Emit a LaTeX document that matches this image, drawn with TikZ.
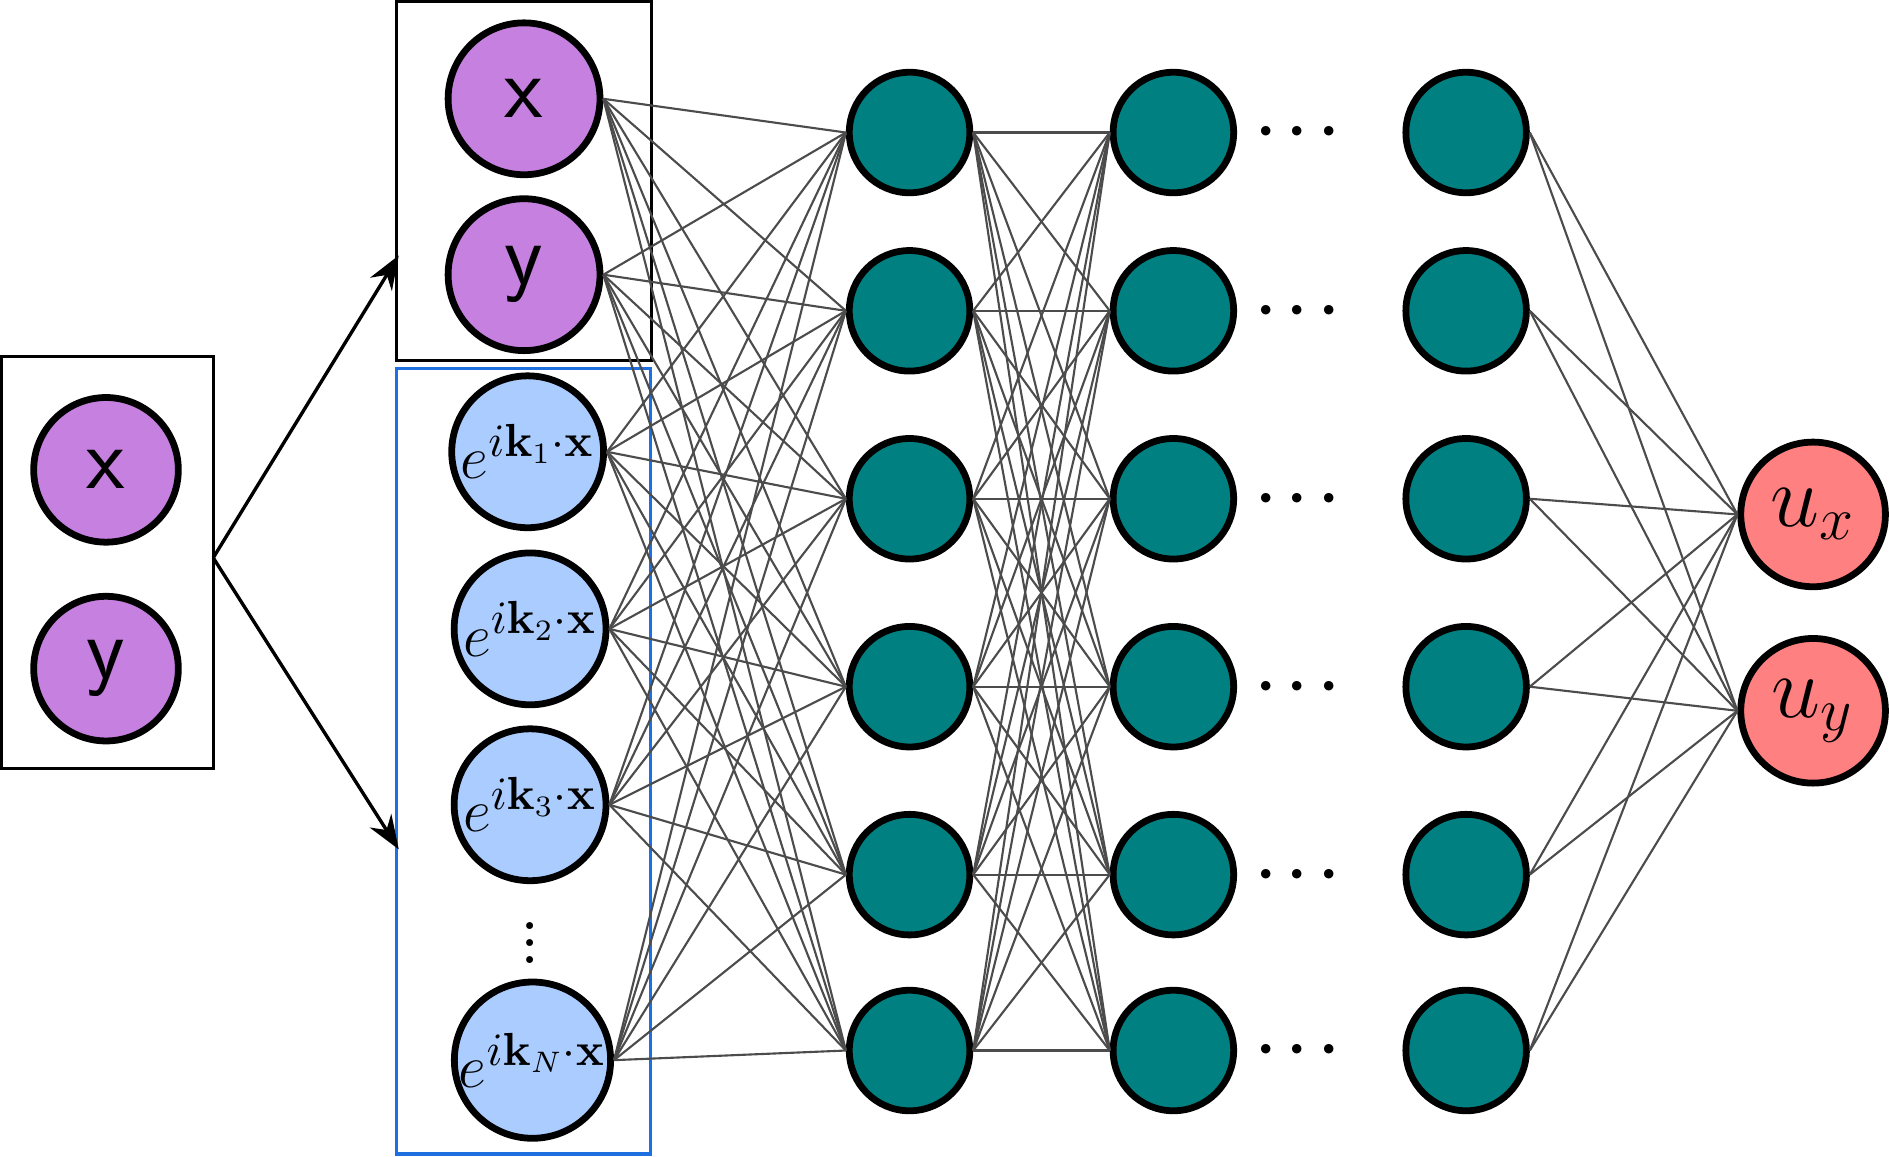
\documentclass[tikz,border=0pt]{standalone}
\usepackage{amsmath}
\usetikzlibrary{arrows.meta}
\definecolor{inpurple}{HTML}{C680E0}
\definecolor{fourblue}{HTML}{AACCFF}
\definecolor{hidteal}{HTML}{008080}
\definecolor{outred}{HTML}{FF8080}
\definecolor{boxblue}{HTML}{1E6FE0}
\tikzset{
  neuron/.style={circle,draw=black,line width=1.6pt,inner sep=0pt},
  inneuron/.style={neuron,fill=inpurple,minimum size=1.2cm,font=\sffamily\fontsize{21}{23}\selectfont},
  bigin/.style={neuron,fill=inpurple,minimum size=1.26cm,font=\sffamily\fontsize{21}{23}\selectfont},
  fourier/.style={neuron,fill=fourblue,minimum size=1.26cm,font=\fontsize{15}{17}\selectfont},
  hidden/.style={neuron,fill=hidteal,minimum size=1.0cm},
  outneuron/.style={neuron,fill=outred,minimum size=1.2cm,font=\fontsize{21}{23}\selectfont},
  weight/.style={draw=black!70,line width=0.5pt},
  dotlabel/.style={inner sep=0pt,font=\fontsize{14}{16}\selectfont},
}
\begin{document}
\begin{tikzpicture}[x=0.01cm,y=-0.01cm]
  \useasboundingbox (0,0) rectangle (1568,960);
  % input boxes
  \draw[line width=0.8pt] (1,296) rectangle (177,638);
  \draw[line width=0.8pt] (329,1) rectangle (541,299);
  \draw[boxblue,line width=0.8pt] (329,306) rectangle (540,958);
  \node[inneuron] (ax) at (88,390) {x};
  \node[inneuron] (ay) at (88,555) {y};
  \node[bigin] (in1) at (435,82) {x};
  \node[bigin] (in2) at (435,228) {y};
  \node[fourier] (in3) at (438,375) {$e^{i\mathbf{k}_1\cdot\mathbf{x}}$};
  \node[fourier] (in4) at (440,522) {$e^{i\mathbf{k}_2\cdot\mathbf{x}}$};
  \node[fourier] (in5) at (440,668) {$e^{i\mathbf{k}_3\cdot\mathbf{x}}$};
  \node[fourier] (in6) at (442,880) {$e^{i\mathbf{k}_N\cdot\mathbf{x}}$};
  \node[dotlabel,font=\fontsize{20}{22}\selectfont] (vdots) at (440,772) {$\vdots$};
  \coordinate (split) at (177,463);
  \draw[-{Stealth[length=8pt]},line width=0.8pt] (split) -- (331,212);
  \draw[-{Stealth[length=8pt]},line width=0.8pt] (split) -- (331,705);
  % hidden layers
  \foreach \y [count=\i] in {110,258,414,570,726,872} {
    \node[hidden] (ha\i) at (755,\y) {};
    \node[hidden] (hb\i) at (974,\y) {};
    \node[hidden] (hc\i) at (1217,\y) {};
    \node[dotlabel] (dt\i) at (1082,\y) {$\boldsymbol{\cdots}$};
  }
  \node[outneuron] (ux) at (1505,427) {$u_x$};
  \node[outneuron] (uy) at (1505,590) {$u_y$};
  % weights
  \foreach \i in {1,...,6} {
    \foreach \j in {1,...,6} {
      \draw[weight] (in\i.east) -- (ha\j.west);
      \draw[weight] (ha\i.east) -- (hb\j.west);
    }
    \draw[weight] (hc\i.east) -- (ux.west);
    \draw[weight] (hc\i.east) -- (uy.west);
  }
\end{tikzpicture}
\end{document}
